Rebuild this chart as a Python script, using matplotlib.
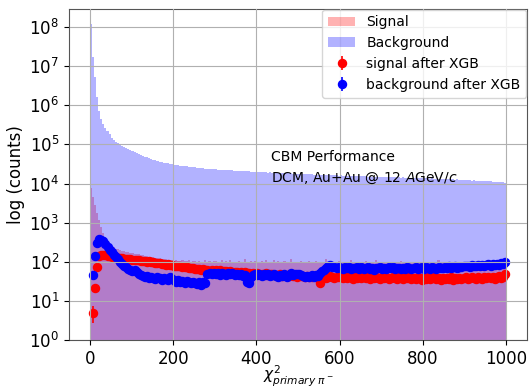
import numpy as np
import matplotlib
matplotlib.use("Agg")
import matplotlib.pyplot as plt
from matplotlib.ticker import NullLocator

# 200 bins of width 5 on [0, 1000]
bin_edges = np.arange(0, 1001, 5)

background_counts = [
    120000000, 17000000, 5400000, 1600000, 720000, 460000, 340000, 265000, 218000, 186000,
    150000, 131000, 117000, 108000, 99000, 93000, 86000, 82000, 77000, 73500,
    69000, 64500, 61000, 57500, 54500, 51500, 49000, 46500, 44500, 42500,
    40500, 39200, 37600, 36500, 35200, 34300, 33300, 32600, 31700, 31100,
    30500, 29700, 29300, 28600, 28200, 27500, 27300, 26700, 26500, 26000,
    25800, 25300, 25200, 24700, 24600, 24200, 24100, 23700, 23700, 23200,
    23200, 22800, 22800, 22400, 22400, 22000, 22000, 21700, 21700, 21300,
    21400, 21000, 21100, 20700, 20800, 20400, 20500, 20200, 20200, 19900,
    20000, 19600, 19700, 19400, 19400, 19100, 19200, 18900, 19000, 18700,
    18800, 18500, 18600, 18300, 18400, 18100, 18200, 17900, 18000, 17700,
    17800, 17500, 17600, 17300, 17400, 17100, 17200, 16900, 17000, 16800,
    16900, 16600, 16700, 16400, 16600, 16300, 16400, 16100, 16300, 16000,
    16100, 15800, 16000, 15700, 15800, 15600, 15700, 15400, 15600, 15300,
    15400, 15200, 15300, 15100, 15200, 14900, 15100, 14800, 15000, 14700,
    14800, 14600, 14700, 14500, 14600, 14400, 14500, 14300, 14400, 14200,
    14300, 14100, 14200, 14000, 14100, 13900, 14000, 13800, 13900, 13700,
    13800, 13500, 13700, 13400, 13500, 13300, 13400, 13100, 13300, 13000,
    13100, 12800, 13000, 12700, 12800, 12500, 12700, 12400, 12500, 12200,
    12300, 12100, 12200, 11900, 12000, 11700, 11900, 11600, 11700, 11400,
    11500, 11300, 11400, 11100, 11200, 10900, 11100, 10800, 10900, 10600,
]

signal_counts = [
    7800, 4600, 2900, 1800, 1150, 780, 560, 420, 340, 280,
    250, 232, 218, 206, 198, 190, 184, 179, 175, 171,
    167, 162, 158, 154, 150, 146, 143, 140, 136, 133,
    130, 127, 124, 122, 119, 117, 115, 113, 111, 109,
    107, 112, 104, 106, 110, 102, 105, 108, 101, 104,
    103, 99, 107, 101, 97, 110, 100, 104, 96, 102,
    106, 98, 101, 113, 97, 103, 99, 108, 95, 101,
    100, 104, 96, 99, 118, 101, 97, 105, 98, 102,
    99, 95, 103, 100, 108, 96, 101, 98, 112, 97,
    102, 99, 95, 104, 98, 101, 121, 96, 100, 97,
    98, 103, 96, 100, 95, 107, 99, 97, 102, 94,
    100, 96, 98, 115, 95, 101, 97, 99, 94, 103,
    96, 99, 95, 101, 97, 108, 94, 98, 100, 95,
    98, 94, 102, 96, 99, 93, 97, 110, 95, 98,
    94, 99, 96, 92, 100, 95, 97, 93, 98, 104,
    95, 92, 97, 94, 99, 96, 93, 98, 91, 96,
    94, 97, 92, 99, 95, 93, 96, 109, 94, 92,
    97, 93, 95, 91, 98, 94, 92, 96, 93, 95,
    92, 96, 94, 90, 97, 93, 95, 91, 99, 94,
    93, 90, 96, 92, 94, 91, 97, 93, 95, 92,
]

signal_after_xgb = [
    np.nan, 5, 21, 75, 140, 150, 145, 148, 140, 138,
    135, 130, 132, 125, 128, 122, 120, 118, 115, 117,
    112, 110, 108, 112, 105, 103, 106, 100, 102, 98,
    97, 95, 92, 94, 90, 88, 85, 87, 83, 84,
    80, 78, 76, 79, 74, 72, 75, 70, 71, 68,
    66, 64, 67, 62, 65, 60, 63, 59, 61, 58,
    60, 58, 62, 56, 59, 57, 55, 58, 54, 56,
    55, 53, 56, 52, 54, 51, 53, 50, 52, 49,
    51, 48, 50, 47, 52, 46, 49, 48, 45, 47,
    46, 48, 44, 47, 45, 43, 46, 44, 45, 42,
    45, 43, 44, 41, 43, 42, 40, 44, 41, 42,
    29, 40, 42, 39, 41, 43, 40, 38, 42, 40,
    41, 39, 43, 38, 40, 42, 37, 41, 39, 40,
    38, 41, 39, 42, 37, 40, 38, 41, 39, 36,
    40, 38, 41, 37, 39, 42, 38, 36, 40, 39,
    37, 40, 38, 41, 36, 39, 37, 40, 38, 35,
    39, 37, 40, 36, 38, 41, 37, 39, 35, 38,
    36, 39, 37, 40, 35, 38, 36, 39, 37, 38,
    40, 37, 39, 42, 38, 36, 41, 39, 37, 40,
    38, 41, 39, 42, 37, 40, 43, 39, 41, 48,
]

background_after_xgb = [
    np.nan, 46, 140, 300, 390, 370, 330, 280, 240, 205,
    175, 150, 132, 118, 100, 88, 78, 72, 66, 62,
    58, 62, 55, 50, 47, 43, 40, 44, 38, 41,
    39, 36, 42, 38, 35, 39, 37, 34, 40, 36,
    34, 31, 35, 30, 33, 29, 32, 30, 28, 31,
    29, 27, 31, 26, 30, 28, 50, 53, 48, 52,
    49, 51, 47, 53, 50, 46, 52, 48, 51, 47,
    50, 46, 48, 44, 45, 30, 28, 42, 47, 49,
    46, 50, 44, 48, 45, 49, 43, 47, 50, 44,
    42, 46, 44, 48, 41, 47, 52, 45, 49, 50,
    50, 46, 44, 41, 43, 40, 45, 42, 47, 44,
    52, 58, 62, 70, 78, 82, 75, 72, 68, 74,
    70, 66, 73, 68, 75, 64, 71, 69, 74, 67,
    72, 65, 70, 74, 66, 69, 63, 71, 68, 73,
    66, 70, 64, 72, 68, 75, 65, 69, 71, 67,
    70, 64, 73, 68, 66, 71, 75, 67, 69, 72,
    66, 72, 69, 64, 75, 70, 67, 73, 68, 71,
    74, 69, 76, 70, 72, 78, 71, 75, 73, 79,
    76, 80, 74, 82, 77, 79, 85, 78, 83, 80,
    84, 88, 79, 86, 82, 90, 85, 92, 88, 100,
]

x_ticks = [0, 200, 400, 600, 800, 1000]

bin_centers = 0.5 * (bin_edges[:-1] + bin_edges[1:])
sig_pts = np.array(signal_after_xgb, dtype=float)
bkg_pts = np.array(background_after_xgb, dtype=float)

fig = plt.figure(figsize=(5.29, 3.9), dpi=100)
ax = fig.add_axes([69 / 529, 50 / 390, 458 / 529, 331 / 390])

ax.stairs(signal_counts, bin_edges, fill=True, color="red", alpha=0.3, label="Signal")
ax.stairs(background_counts, bin_edges, fill=True, color="blue", alpha=0.3, label="Background")
ax.errorbar(bin_centers, sig_pts, yerr=np.sqrt(sig_pts), fmt="o", color="red",
            markersize=5.8, elinewidth=1.2, label="signal after XGB")
ax.errorbar(bin_centers, bkg_pts, yerr=np.sqrt(bkg_pts), fmt="o", color="blue",
            markersize=5.8, elinewidth=1.2, label="background after XGB")

ax.set_yscale("log")
ax.set_ylim(1, 2.9e8)
ax.set_xlim(-50, 1050)
ax.set_xticks(x_ticks)
ax.yaxis.set_minor_locator(NullLocator())
ax.grid(True, color="#b0b0b0", linewidth=0.8)
ax.set_axisbelow(False)
ax.tick_params(labelsize=12)
for s in ax.spines.values():
    s.set_color("#555555")

ax.set_ylabel("log (counts)", fontsize=12)
ax.yaxis.set_label_coords(-0.096, 0.5)
ax.set_xlabel(r"$\chi^2_{primary\ \pi^-}$", fontsize=11)
ax.xaxis.set_label_coords(0.5, -0.072)

ax.text(436, 10 ** 4.58, "CBM Performance", fontsize=10, va="baseline", ha="left")
ax.text(436, 10 ** 4.04, r"DCM, Au+Au @ 12 $A$GeV/$c$", fontsize=10, va="baseline", ha="left")

ax.legend(loc="upper right", fontsize=10, borderaxespad=0.05)

fig.savefig("out.png", dpi=100)
